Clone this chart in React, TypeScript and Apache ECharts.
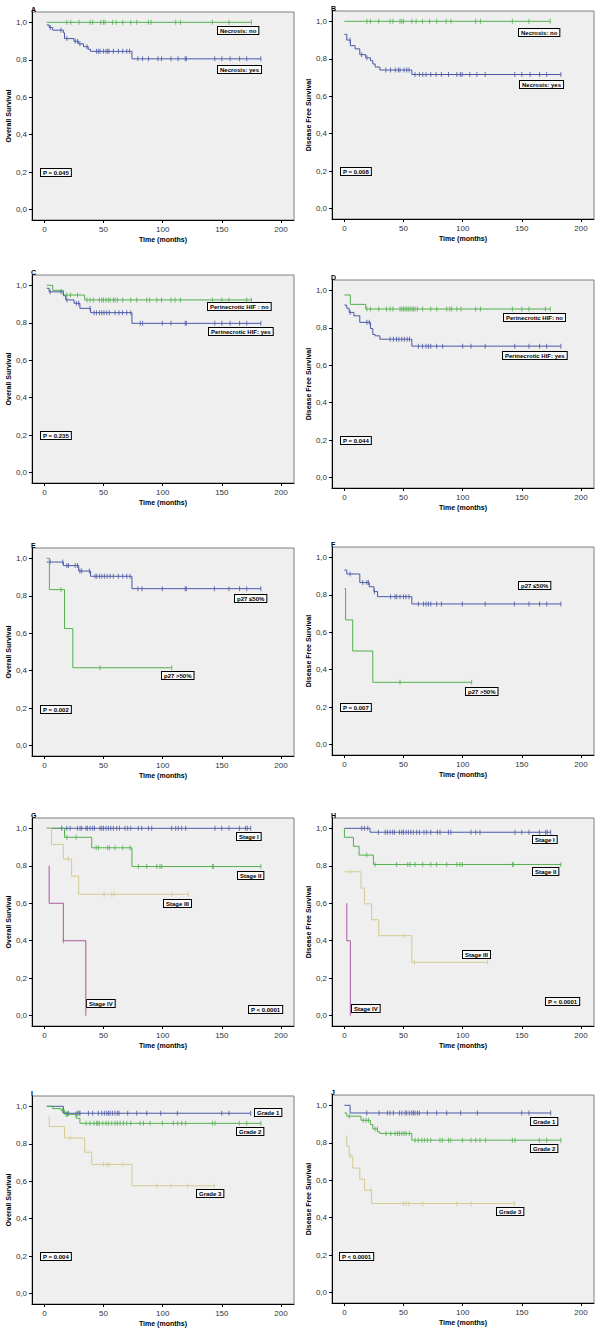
import React, { useEffect, useRef } from "react";
import * as echarts from "echarts";

const BLUE = "#4a58a6";
const GREEN = "#52b04f";
const BEIGE = "#d3cb92";
const PURPLE = "#a9599f";

const xTicks = [0, 50, 100, 150, 200];
const yTicks = [0, 0.2, 0.4, 0.6, 0.8, 1.0];
const OS = "Overall Survival";
const DFS = "Disease Free Survival";

// ---- Panel A ----
const A_no = [[2, 1], [175, 1]];
const A_noC = [18.9, 22.3, 29.3, 38.6, 40.8, 47.6, 49.9, 51.3, 57.5, 60.6, 66.2, 73, 78, 87.9, 90.1, 111, 115, 142, 156, 175];
const A_yes = [[2, 0.986], [4, 0.972], [7, 0.958], [16, 0.944], [17, 0.913], [25, 0.899], [29, 0.885], [33, 0.87], [37, 0.856], [39, 0.845], [74, 0.805], [183, 0.805]];
const A_yesC = [5, 14, 19, 26, 28, 30, 36, 44, 45.6, 47, 49.9, 52, 53.5, 54.6, 58.3, 62.5, 66.2, 69.6, 72, 79, 83, 88, 96, 99, 107, 113, 119, 120, 144, 150, 157, 165, 171, 183];
// ---- Panel B ----
const B_no = [[0, 1], [174, 1]];
const B_noC = [19, 22, 29, 38.6, 41, 47, 48.5, 50, 57, 60.6, 66, 72, 78, 86, 90, 111, 115, 142, 156, 174];
const B_yes = [[0, 0.93], [2, 0.9], [5, 0.87], [9, 0.853], [13, 0.822], [18, 0.805], [22, 0.79], [24, 0.772], [26, 0.756], [30, 0.74], [57, 0.716], [183, 0.716]];
const B_yesC = [4.8, 14.6, 19, 35, 39, 43, 45.6, 47, 50.4, 52.7, 54.6, 59.7, 63.4, 66.2, 69, 73, 77.5, 82, 88, 95, 98, 99.5, 106, 112, 119, 144, 150, 157, 165, 171, 183];
// ---- Panel C ----
const C_no = [[2, 1], [7, 0.973], [16, 0.948], [34, 0.922], [175, 0.922]];
const C_noC = [18.9, 22, 28, 36, 38.6, 41.4, 46.5, 48.5, 49.9, 52, 54, 55.5, 58.3, 59.7, 61.7, 66.2, 73, 78, 86.5, 89, 95, 99, 107, 110.4, 115, 142, 150, 156, 171, 175];
const C_yes = [[2, 0.984], [4, 0.965], [16, 0.944], [18, 0.922], [25, 0.904], [30, 0.877], [39, 0.854], [74, 0.797], [183, 0.797]];
const C_yesC = [4.8, 14, 19, 27, 29, 38.6, 42, 44, 46.5, 48.5, 50.4, 52.7, 55, 59.7, 63, 66, 69.6, 73, 81, 83, 99.7, 107, 119, 120, 144, 150, 157, 165, 171, 183];
// ---- Panel D ----
const D_no = [[0, 0.975], [5, 0.925], [18, 0.9], [174, 0.9]];
const D_noC = [19, 22, 29, 35.5, 38.6, 41, 47, 48.5, 49.9, 51.3, 52.7, 54, 55.5, 57, 58.3, 59.7, 61.7, 66.2, 73, 78, 86.5, 89, 90.7, 95, 98.6, 111, 115, 142, 150, 156, 170, 174];
const D_yes = [[0, 0.921], [2, 0.904], [4, 0.882], [8, 0.864], [13, 0.829], [22, 0.796], [24, 0.764], [26, 0.757], [30, 0.739], [57, 0.702], [183, 0.702]];
const D_yesC = [4.8, 19, 21, 38.6, 41.4, 44, 46, 48.5, 50.7, 53, 55, 62.5, 66, 69, 71, 73, 78, 83, 100, 107, 119, 144, 156, 165, 171, 183];
// ---- Panel E ----
const E_low = [[2, 0.98], [16, 0.961], [29, 0.932], [39, 0.904], [74, 0.838], [183, 0.838]];
const E_lowC = [4.8, 15.5, 19, 20.3, 26, 28, 30, 31.5, 38, 42.8, 44.2, 46.5, 48.5, 50.7, 53, 55.5, 58.3, 62.5, 66.2, 69.6, 72.4, 79, 82.5, 99.7, 119, 120, 143.7, 156, 165, 171, 183];
const E_high = [[2, 1], [4.2, 0.833], [17, 0.625], [24, 0.416], [107.6, 0.416]];
const E_highC = [14, 47, 107.6];
// ---- Panel F ----
const F_low = [[0, 0.932], [2, 0.911], [13, 0.865], [21, 0.843], [25, 0.817], [28, 0.79], [57, 0.751], [183, 0.751]];
const F_lowC = [4.8, 15.5, 19, 20.3, 25.3, 39, 42.8, 44.2, 47, 49.9, 52, 54.6, 62.5, 66.8, 69, 71, 73, 78, 82, 99.7, 119, 143.7, 156, 165, 171, 183];
const F_high = [[0, 0.833], [1, 0.666], [7, 0.5], [24, 0.333], [107.6, 0.333]];
const F_highC = [47, 107.6];
// ---- Panel G ----
const G_s1 = [[2, 1], [174.4, 1]];
const G_s1C = [14.6, 18.9, 21.7, 27.9, 30.1, 31.5, 35.2, 36.3, 38.6, 40.8, 42.3, 47, 48.5, 49.9, 52.1, 54.1, 56.1, 58.3, 61.1, 63.4, 68.2, 70.4, 73, 79.4, 82.3, 87.9, 90.7, 107.6, 111, 113.2, 116, 119.4, 144.2, 149.9, 156, 164.8, 170.1, 171.5, 174.4];
const G_s2 = [[2, 1], [17, 0.952], [40, 0.896], [74, 0.796], [183, 0.796]];
const G_s2C = [19, 26.8, 43.7, 45.6, 53.2, 54.9, 59.7, 66.2, 72.4, 79.4, 86.5, 95, 97.7, 99.2, 142, 142.8, 183];
const G_s3 = [[2, 1], [6, 0.914], [16, 0.836], [23, 0.745], [29, 0.648], [121.7, 0.648]];
const G_s3C = [20.3, 50.4, 56.9, 58.9, 107.6, 121.7];
const G_s4 = [[4, 0.8], [4, 0.6], [16, 0.4], [35, 0]];
const G_s4C = [16];
// ---- Panel H ----
const H_s1 = [[0, 1], [21.7, 0.979], [174.4, 0.979]];
const H_s1C = [14.6, 16.9, 19.7, 28.7, 34.4, 36.3, 38.6, 40.8, 42.3, 46.5, 48.5, 49.9, 52.1, 54.1, 56.1, 58.3, 61.1, 63.4, 67.3, 69.6, 73, 78.6, 80.8, 87.9, 89.9, 107, 111, 114.6, 144.2, 149.9, 156, 164.8, 170.1, 171.5, 174.4];
const H_s2 = [[0, 1], [0, 0.952], [7.6, 0.904], [12.4, 0.857], [24.5, 0.807], [183, 0.807]];
const H_s2C = [18.9, 25.9, 44.2, 53.5, 55.5, 59.7, 66.2, 73, 78, 86.5, 95, 97.7, 99.7, 142, 142.8, 183];
const H_s3 = [[0, 0.768], [14, 0.681], [17, 0.597], [23, 0.512], [29, 0.427], [57, 0.285], [121, 0.285]];
const H_s3C = [4.8, 50.4, 59.2, 121];
const H_s4 = [[2, 0.6], [2, 0.4], [5, 0]];
const H_s4C: number[] = [];
// ---- Panel I ----
const I_g1 = [[2, 1], [16, 0.963], [174.4, 0.963]];
const I_g1C = [20.3, 27.9, 29.3, 30.1, 37.2, 40.8, 45.6, 48.5, 50.7, 52.7, 54.1, 55.5, 57.5, 59.7, 61.7, 63.1, 70.4, 78, 86.5, 98.3, 112.4, 149.9, 156, 174.4];
const I_g2 = [[2, 1], [7, 0.988], [14, 0.977], [16, 0.97], [18, 0.957], [27, 0.936], [30, 0.909], [183, 0.909]];
const I_g2C = [15.5, 16.9, 18.3, 18.9, 19.7, 26.5, 35.2, 38.6, 41.9, 44.2, 45.1, 46.5, 49.3, 52.1, 54.1, 56.9, 59.7, 61.7, 64, 66.8, 69.6, 73, 80.8, 83.7, 89.3, 99.7, 109, 112.7, 116, 119.4, 142, 144.2, 164.8, 171, 183];
const I_g3 = [[4, 0.945], [4, 0.892], [17, 0.831], [34, 0.755], [40, 0.69], [74, 0.576], [143.7, 0.576]];
const I_g3C = [21.7, 49.9, 52.7, 54.6, 66.2, 95, 107, 121, 143.7];
// ---- Panel J ----
const J_g1 = [[0, 1], [4.8, 0.959], [174.4, 0.959]];
const J_g1C = [18.9, 29.3, 36.3, 38.6, 41.4, 46.5, 48.5, 51.3, 52.7, 54.9, 56.9, 58.3, 59.7, 61.7, 63.4, 70.1, 78, 86.5, 98.3, 112.4, 149.9, 156, 174.4];
const J_g2 = [[0, 0.959], [2, 0.942], [14, 0.92], [22, 0.897], [24, 0.874], [28, 0.858], [30, 0.85], [57, 0.814], [183, 0.814]];
const J_g2C = [4.2, 16, 18.3, 20.3, 25.9, 27.9, 35.2, 39.2, 42.8, 44.8, 46.5, 48.5, 50.4, 52.1, 54.9, 59.7, 62.5, 65.4, 67.6, 70.1, 73, 80.8, 82.8, 88, 89.9, 99.7, 107, 111, 114.6, 119.4, 142, 144.2, 164.8, 171, 183];
const J_g3 = [[1, 0.835], [2, 0.782], [4, 0.729], [7, 0.665], [13, 0.606], [17, 0.547], [23, 0.476], [143.7, 0.476]];
const J_g3C = [5.4, 22.5, 49.9, 52.1, 54.6, 66.2, 95, 107, 143.7];

type Curve = { steps: number[][]; censor: number[]; color: string };
type Label = { text: string; x: number; y: number };
type Panel = { letter: string; col: number; top: number; yName: string; curves: Curve[]; labels: Label[] };

const panels: Panel[] = [
  { letter: "A", col: 0, top: 12, yName: OS,
    curves: [{ steps: A_no, censor: A_noC, color: GREEN }, { steps: A_yes, censor: A_yesC, color: BLUE }],
    labels: [{ text: "Necrosis: no", x: 218, y: 27 }, { text: "Necrosis: yes", x: 218, y: 66 }, { text: "P = 0.045", x: 41, y: 169 }] },
  { letter: "B", col: 1, top: 11, yName: DFS,
    curves: [{ steps: B_no, censor: B_noC, color: GREEN }, { steps: B_yes, censor: B_yesC, color: BLUE }],
    labels: [{ text: "Necrosis: no", x: 519, y: 29 }, { text: "Necrosis: yes", x: 520, y: 81 }, { text: "P = 0.008", x: 341, y: 168 }] },
  { letter: "C", col: 0, top: 275, yName: OS,
    curves: [{ steps: C_no, censor: C_noC, color: GREEN }, { steps: C_yes, censor: C_yesC, color: BLUE }],
    labels: [{ text: "Perinecrotic HIF : no", x: 208, y: 303 }, { text: "Perinecrotic HIF: yes", x: 209, y: 328 }, { text: "P = 0.235", x: 41, y: 432 }] },
  { letter: "D", col: 1, top: 280, yName: DFS,
    curves: [{ steps: D_no, censor: D_noC, color: GREEN }, { steps: D_yes, censor: D_yesC, color: BLUE }],
    labels: [{ text: "Perinecrotic HIF: no", x: 504, y: 314 }, { text: "Perinecrotic HIF: yes", x: 503, y: 352 }, { text: "P = 0.044", x: 341, y: 437 }] },
  { letter: "E", col: 0, top: 548, yName: OS,
    curves: [{ steps: E_low, censor: E_lowC, color: BLUE }, { steps: E_high, censor: E_highC, color: GREEN }],
    labels: [{ text: "p27 \u226450%", x: 235, y: 595 }, { text: "p27 >50%", x: 162, y: 672 }, { text: "P = 0.002", x: 41, y: 706 }] },
  { letter: "F", col: 1, top: 547, yName: DFS,
    curves: [{ steps: F_low, censor: F_lowC, color: BLUE }, { steps: F_high, censor: F_highC, color: GREEN }],
    labels: [{ text: "p27 \u226450%", x: 519, y: 582 }, { text: "p27 >50%", x: 466, y: 688 }, { text: "P = 0.007", x: 341, y: 704 }] },
  { letter: "G", col: 0, top: 818, yName: OS,
    curves: [{ steps: G_s1, censor: G_s1C, color: BLUE }, { steps: G_s2, censor: G_s2C, color: GREEN }, { steps: G_s3, censor: G_s3C, color: BEIGE }, { steps: G_s4, censor: G_s4C, color: PURPLE }],
    labels: [{ text: "Stage I", x: 237, y: 833 }, { text: "Stage II", x: 238, y: 872 }, { text: "Stage III", x: 164, y: 900 }, { text: "Stage IV", x: 87, y: 1000 }, { text: "P < 0.0001", x: 249, y: 1006 }] },
  { letter: "H", col: 1, top: 818, yName: DFS,
    curves: [{ steps: H_s1, censor: H_s1C, color: BLUE }, { steps: H_s2, censor: H_s2C, color: GREEN }, { steps: H_s3, censor: H_s3C, color: BEIGE }, { steps: H_s4, censor: H_s4C, color: PURPLE }],
    labels: [{ text: "Stage I", x: 533, y: 836 }, { text: "Stage II", x: 533, y: 868 }, { text: "Stage III", x: 463, y: 951 }, { text: "Stage IV", x: 352, y: 1005 }, { text: "P < 0.0001", x: 546, y: 998 }] },
  { letter: "I", col: 0, top: 1096, yName: OS,
    curves: [{ steps: I_g1, censor: I_g1C, color: BLUE }, { steps: I_g2, censor: I_g2C, color: GREEN }, { steps: I_g3, censor: I_g3C, color: BEIGE }],
    labels: [{ text: "Grade 1", x: 255, y: 1109 }, { text: "Grade 2", x: 237, y: 1128 }, { text: "Grade 3", x: 197, y: 1190 }, { text: "P = 0.004", x: 41, y: 1253 }] },
  { letter: "J", col: 1, top: 1095, yName: DFS,
    curves: [{ steps: J_g1, censor: J_g1C, color: BLUE }, { steps: J_g2, censor: J_g2C, color: GREEN }, { steps: J_g3, censor: J_g3C, color: BEIGE }],
    labels: [{ text: "Grade 1", x: 531, y: 1118 }, { text: "Grade 2", x: 531, y: 1145 }, { text: "Grade 3", x: 497, y: 1208 }, { text: "P < 0.0001", x: 340, y: 1253 }] },
];

const FONT = '"Liberation Sans", Arial, sans-serif';
const GRID_W = 262;
const GRID_H = 208;
const COL_LEFT = [32, 332];

function survAt(steps: number[][], t: number): number {
  let v = steps[0][1];
  for (const p of steps) {
    if (p[0] <= t) v = p[1];
  }
  return v;
}

function buildOption() {
  const grid: any[] = [];
  const xAxis: any[] = [];
  const yAxis: any[] = [];
  const series: any[] = [];
  const graphic: any[] = [];

  panels.forEach((p, i) => {
    const left = COL_LEFT[p.col];
    grid.push({
      left, top: p.top, width: GRID_W, height: GRID_H,
      show: true, backgroundColor: "#efefef", borderColor: "#7f7f7f", borderWidth: 1,
      containLabel: false, outerBoundsMode: "none",
    });
    xAxis.push({
      type: "value", gridIndex: i, min: -10.5, max: 211,
      name: "Time (months)", nameLocation: "middle", nameGap: 16,
      nameTextStyle: { fontWeight: "bold", fontSize: 7, color: "#000", fontFamily: FONT },
      axisLine: { show: true, onZero: false, lineStyle: { color: "#000", width: 1 } },
      axisTick: { show: true, length: 3, customValues: xTicks, lineStyle: { color: "#000" } },
      axisLabel: { customValues: xTicks, fontSize: 8, color: "#333", margin: 5, fontFamily: FONT },
      splitLine: { show: false },
    });
    yAxis.push({
      type: "value", gridIndex: i, min: -0.055, max: 1.055,
      name: p.yName, nameLocation: "middle", nameGap: 18,
      nameTextStyle: { fontWeight: "bold", fontSize: 7, color: "#000", fontFamily: FONT },
      axisLine: { show: true, onZero: false, lineStyle: { color: "#000", width: 1 } },
      axisTick: { show: true, length: 3, customValues: yTicks, lineStyle: { color: "#000" } },
      axisLabel: {
        customValues: yTicks, fontSize: 8, color: "#333", margin: 5, fontFamily: FONT,
        formatter: (v: number) => v.toFixed(1).replace(".", ","),
      },
      splitLine: { show: false },
    });
    p.curves.forEach((c) => {
      series.push({
        type: "line", xAxisIndex: i, yAxisIndex: i, data: c.steps, step: "end",
        symbol: "none", showSymbol: false, silent: true,
        lineStyle: { color: c.color, width: 1 },
      });
      series.push({
        type: "scatter", xAxisIndex: i, yAxisIndex: i, silent: true,
        data: c.censor.map((t) => [t, survAt(c.steps, t)]),
        symbol: "rect", symbolSize: [1, 5],
        itemStyle: { color: c.color },
      });
    });
    graphic.push({
      type: "text", left: undefined, x: left - 1, y: p.top + 0.5, silent: true,
      style: { text: p.letter, fill: "#000", fontSize: 7, fontWeight: "bold", fontFamily: FONT, textVerticalAlign: "bottom", verticalAlign: "bottom" },
    });
    p.labels.forEach((l) => {
      graphic.push({
        type: "text", x: l.x, y: l.y, silent: true,
        style: {
          text: l.text, fill: "#000", fontSize: 6, fontWeight: "bold", fontFamily: FONT,
          backgroundColor: "#fafafa", borderColor: "#000", borderWidth: 1, padding: [1, 2, 0, 2],
        },
      });
    });
  });

  return { animation: false, backgroundColor: "#ffffff", grid, xAxis, yAxis, series, graphic };
}

export default function App() {
  const ref = useRef<HTMLDivElement>(null);
  useEffect(() => {
    document.body.style.margin = "0";
    if (!ref.current) return;
    const chart = echarts.init(ref.current, null, { renderer: "svg" });
    chart.setOption(buildOption() as any);
    return () => chart.dispose();
  }, []);
  return <div ref={ref} style={{ width: 600, height: 1339 }} />;
}
